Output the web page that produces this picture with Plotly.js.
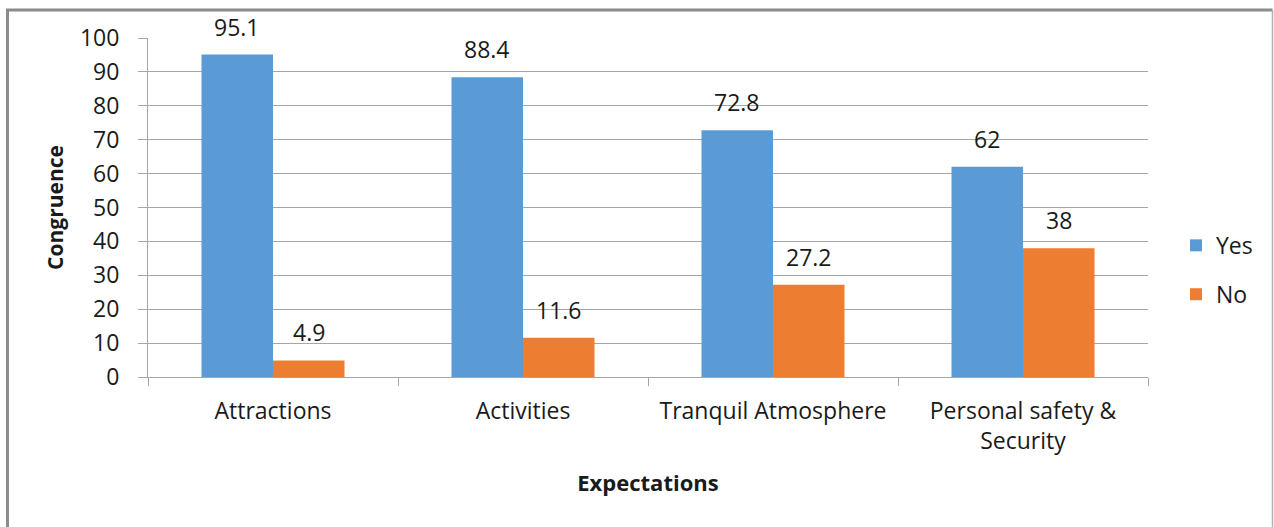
<!DOCTYPE html>
<html>
<head>
<meta charset="utf-8">
<script src="https://cdn.plot.ly/plotly-3.0.1.min.js"></script>
<style>
  html, body { margin: 0; padding: 0; background: #ffffff; }
  #chart { width: 1274px; height: 527px; }
</style>
</head>
<body>
<div id="chart"></div>
<script>
// Expectation categories and the share of visitors whose expectations were met
const categories = ["Attractions", "Activities", "Tranquil Atmosphere", "Personal safety &<br>Security"];
const yesValues = [95.1, 88.4, 72.8, 62];
const noValues = [4.9, 11.6, 27.2, 38];
const yTickValues = [0, 10, 20, 30, 40, 50, 60, 70, 80, 90, 100];

const FONT = "Open Sans, Lato, sans-serif";
const FONT_SIZE = 23;
const TITLE_SIZE = 22;
const TEXT_COLOR = "#1a1a1a";
const GRID_COLOR = "#a6a6a6";
const BAR_GAP = 0.428;

// Plot-area geometry used for the value-label offsets
const margin = { l: 148, r: 126, t: 38, b: 150 };
const plotWidth = 1274 - margin.l - margin.r;
const bandWidth = plotWidth / categories.length;
const barWidthPx = bandWidth * (1 - BAR_GAP) / 2;

const traces = [
  {
    type: "bar", name: "Yes", x: categories, y: yesValues,
    marker: { color: "#5B9BD5" }, legendgroup: "yes", hoverinfo: "x+y+name"
  },
  {
    type: "bar", name: "No", x: categories, y: noValues,
    marker: { color: "#ED7D31" }, legendgroup: "no", hoverinfo: "x+y+name"
  }
];

// Value labels above each bar, centred on the bar within its group
function valueLabels(values, shift) {
  return values.map((v, i) => ({
    x: categories[i], y: v, xref: "x", yref: "y",
    text: String(v), showarrow: false,
    xanchor: "center", yanchor: "bottom",
    xshift: shift, yshift: 10,
    font: { family: FONT, size: FONT_SIZE, color: TEXT_COLOR }
  }));
}

const annotations = [
  ...valueLabels(yesValues, -barWidthPx / 2),
  ...valueLabels(noValues, barWidthPx / 2)
];

// Outer frame around the chart
const frameColor = "#8c8c8c";
const shapes = [
  { type: "line", xref: "paper", yref: "paper", x0: -0.1405, x1: -0.1405, y0: 1.0826, y1: -0.46, line: { color: frameColor, width: 3 } },
  { type: "line", xref: "paper", yref: "paper", x0: -0.142, x1: 1.1245, y0: 1.0826, y1: 1.0826, line: { color: frameColor, width: 3 } },
  { type: "line", xref: "paper", yref: "paper", x0: 1.1245, x1: 1.1245, y0: 1.0826, y1: -0.46, line: { color: "#b0b0b0", width: 1.5 } }
];

const layout = {
  width: 1274, height: 527,
  margin: margin,
  paper_bgcolor: "#ffffff", plot_bgcolor: "#ffffff",
  font: { family: FONT, size: FONT_SIZE, color: TEXT_COLOR },
  barmode: "group", bargap: BAR_GAP, bargroupgap: 0,
  showlegend: true,
  legend: {
    x: 1.028, xanchor: "left", y: 0.316, yanchor: "middle",
    font: { family: FONT, size: FONT_SIZE, color: TEXT_COLOR },
    tracegroupgap: 16, bgcolor: "rgba(0,0,0,0)"
  },
  xaxis: {
    type: "category",
    tickson: "boundaries", ticks: "outside", ticklen: 8, tickcolor: GRID_COLOR, tickwidth: 1,
    showline: true, linecolor: GRID_COLOR, linewidth: 1,
    showgrid: false, zeroline: false,
    ticklabelstandoff: 13,
    tickfont: { family: FONT, size: FONT_SIZE, color: TEXT_COLOR },
    title: { text: "<b>Expectations</b>", font: { family: FONT, size: TITLE_SIZE, color: TEXT_COLOR }, standoff: 21 },
    automargin: false, fixedrange: true
  },
  yaxis: {
    range: [0, 100], tickvals: yTickValues, ticktext: yTickValues.map(String),
    ticks: "outside", ticklen: 9, tickcolor: GRID_COLOR, tickwidth: 1,
    showline: true, linecolor: GRID_COLOR, linewidth: 1,
    showgrid: true, gridcolor: GRID_COLOR, gridwidth: 1,
    zeroline: false,
    ticklabelstandoff: 14,
    tickfont: { family: FONT, size: FONT_SIZE, color: TEXT_COLOR },
    title: { text: "<b>Congruence</b>", font: { family: FONT, size: TITLE_SIZE - 1, color: TEXT_COLOR }, standoff: 10 },
    automargin: false, fixedrange: true
  },
  annotations: annotations,
  shapes: shapes
};

Plotly.newPlot("chart", traces, layout, { displayModeBar: false, staticPlot: true });
</script>
</body>
</html>
